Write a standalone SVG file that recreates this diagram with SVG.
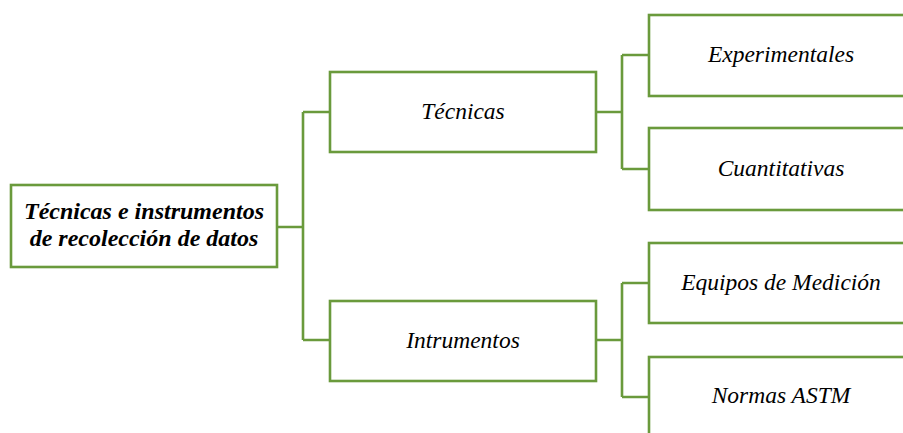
<svg xmlns="http://www.w3.org/2000/svg" width="903" height="433" viewBox="0 0 903 433">
  <!-- Tree of data-collection techniques and instruments -->
  <rect width="903" height="433" fill="#ffffff"/>

  <!-- elbow connectors between levels -->
  <g id="connectors" fill="none" stroke="#6a9a3c" stroke-width="2.6">
    <path d="M277 227 H303 M303 112 V340 M303 112 H330 M303 340 H330"/>
    <path d="M596 112 H622 M622 55 V169 M622 55 H649 M622 169 H649"/>
    <path d="M596 340 H622 M622 283 V397 M622 283 H649 M622 397 H649"/>
  </g>

  <g id="root">
    <rect x="11" y="185" width="266" height="82" fill="#ffffff" stroke="#6a9a3c" stroke-width="2.6"/>
    <text x="144" y="219" font-family="'Liberation Serif', 'Times New Roman', serif" font-style="italic" font-weight="bold" font-size="24" text-anchor="middle">Técnicas e instrumentos</text>
    <text x="144" y="246" font-family="'Liberation Serif', 'Times New Roman', serif" font-style="italic" font-weight="bold" font-size="24" text-anchor="middle">de recolección de datos</text>
  </g>

  <g id="tecnicas">
    <rect x="330" y="72" width="266" height="80" fill="#ffffff" stroke="#6a9a3c" stroke-width="2.6"/>
    <text x="463" y="119" font-family="'Liberation Serif', 'Times New Roman', serif" font-style="italic" font-size="23.5" text-anchor="middle">Técnicas</text>
  </g>

  <g id="instrumentos">
    <rect x="330" y="301" width="266" height="80" fill="#ffffff" stroke="#6a9a3c" stroke-width="2.6"/>
    <text x="463" y="348" font-family="'Liberation Serif', 'Times New Roman', serif" font-style="italic" font-size="23.5" text-anchor="middle">Intrumentos</text>
  </g>

  <g id="experimentales">
    <rect x="649" y="15" width="270" height="81" fill="#ffffff" stroke="#6a9a3c" stroke-width="2.6"/>
    <text x="781" y="62" font-family="'Liberation Serif', 'Times New Roman', serif" font-style="italic" font-size="23.5" text-anchor="middle">Experimentales</text>
  </g>

  <g id="cuantitativas">
    <rect x="649" y="128" width="270" height="82" fill="#ffffff" stroke="#6a9a3c" stroke-width="2.6"/>
    <text x="781" y="176" font-family="'Liberation Serif', 'Times New Roman', serif" font-style="italic" font-size="23.5" text-anchor="middle">Cuantitativas</text>
  </g>

  <g id="equipos">
    <rect x="649" y="243" width="270" height="80" fill="#ffffff" stroke="#6a9a3c" stroke-width="2.6"/>
    <text x="781" y="290" font-family="'Liberation Serif', 'Times New Roman', serif" font-style="italic" font-size="23.5" text-anchor="middle">Equipos de Medición</text>
  </g>

  <g id="normas">
    <rect x="649" y="357" width="270" height="90" fill="#ffffff" stroke="#6a9a3c" stroke-width="2.6"/>
    <text x="781" y="403" font-family="'Liberation Serif', 'Times New Roman', serif" font-style="italic" font-size="23.5" text-anchor="middle">Normas ASTM</text>
  </g>
</svg>
